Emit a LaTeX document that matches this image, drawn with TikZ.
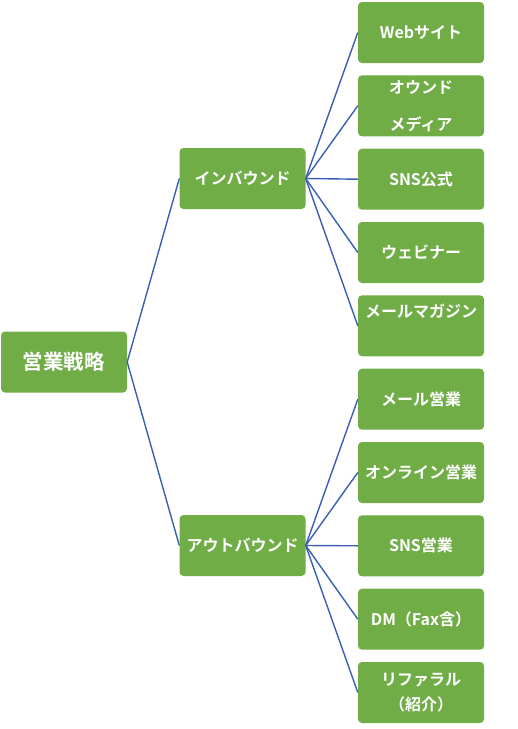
\documentclass[tikz,border=0pt]{standalone}
\usepackage{fontspec}
\setmainfont{Noto Sans CJK JP}[BoldFont={Noto Sans CJK JP Bold}]
\usepackage{tikz}
\usetikzlibrary{positioning}
\definecolor{boxgreen}{HTML}{70AD47}
\definecolor{linkblue}{HTML}{3A5FB2}
\tikzset{
  topic/.style={
    fill=boxgreen, rounded corners=4pt, text=white,
    minimum width=126pt, minimum height=61pt, inner sep=0pt,
    align=center, font=\fontsize{16}{19}\selectfont\bfseries
  },
  link/.style={draw=linkblue, line width=1.4pt}
}

\begin{document}
\begin{tikzpicture}[x=1pt, y=-1pt]

\useasboundingbox (0,0) rectangle (518,729);

%% Root
\node[topic, font=\fontsize{20.5}{24}\selectfont\bfseries] (root) at (64,362) {営業戦略};

%% Branches
\node[topic] (inb) at (242.5,178.5) {インバウンド};
\node[topic] (outb) at (242.5,545.5) {アウトバウンド};

%% Leaves — inbound
\node[topic] (in1) at (421,32.5) {Webサイト};
\node[topic] (in2) at (421,105.8) {オウンド\\[18pt]メディア};
\node[topic] (in3) at (421,179.2) {SNS公式};
\node[topic] (in4) at (421,252.5) {ウェビナー};
\node[topic] (in5) at (421,325.8) {メールマガジン\\[11pt]\mbox{}};

%% Leaves — outbound
\node[topic] (out1) at (421,399.2) {メール営業};
\node[topic] (out2) at (421,472.5) {オンライン営業};
\node[topic] (out3) at (421,545.8) {SNS営業};
\node[topic] (out4) at (421,619.2) {DM（Fax含）};
\node[topic] (out5) at (421,692.5) {リファラル\\[6pt]（紹介）};

%% Links
\draw[link] (root.east) -- (inb.west);
\draw[link] (root.east) -- (outb.west);
\foreach \lf in {in1,in2,in3,in4,in5}
  \draw[link] (inb.east) -- (\lf.west);
\foreach \lf in {out1,out2,out3,out4,out5}
  \draw[link] (outb.east) -- (\lf.west);

\end{tikzpicture}
\end{document}
